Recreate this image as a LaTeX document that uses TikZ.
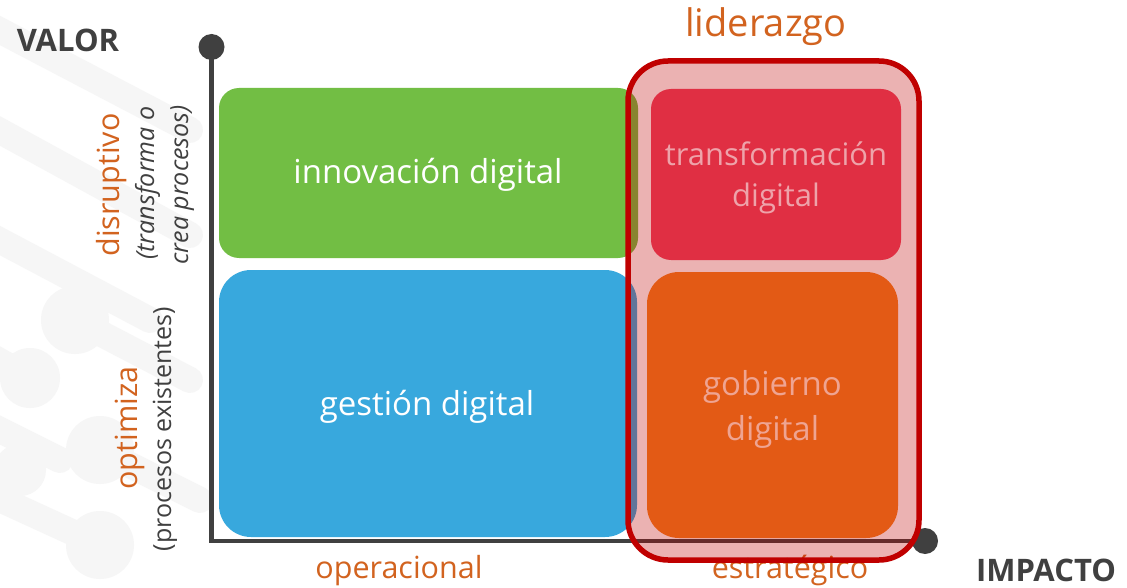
\documentclass[tikz,border=0pt]{standalone}
\usepackage{fontspec}
\setmainfont{Open Sans}
\definecolor{axisgray}{HTML}{404040}
\definecolor{txtorange}{HTML}{D2631F}
\definecolor{boxgreen}{HTML}{72BE44}
\definecolor{boxblue}{HTML}{38A8DD}
\definecolor{boxred}{HTML}{E02F43}
\definecolor{boxorange}{HTML}{E35A15}
\definecolor{leadred}{HTML}{C00000}
\definecolor{pinkred}{HTML}{EEA3AA}
\definecolor{pinkor}{HTML}{EFA492}
\definecolor{wmark}{HTML}{F6F6F6}
\tikzset{
  dot/.style={circle, fill=axisgray, minimum size=26pt, inner sep=0pt},
  axisline/.style={draw=axisgray, line width=4.5pt, line join=miter},
  qbox/.style={rectangle, inner sep=0pt, draw=none},
  boxtext/.style={anchor=base, inner sep=0pt, font=\fontsize{33}{40}\selectfont},
  axtitle/.style={anchor=base, inner sep=0pt, text=axisgray, font=\bfseries\fontsize{31}{36}\selectfont},
  axlabel/.style={anchor=base, inner sep=0pt, text=txtorange, font=\fontsize{30.5}{36}\selectfont},
  sublabel/.style={anchor=base, inner sep=0pt, text=axisgray, font=\fontsize{25}{30}\selectfont},
  wm/.style={draw=wmark, line width=26pt, line cap=round},
}
\begin{document}
\begin{tikzpicture}[x=1pt,y=-1pt]
\useasboundingbox (0,0) rectangle (1127,588);
\fill[white] (0,0) rectangle (1127,588);
% faint watermark
\draw[wm] (-20,20) -- (190,130);
\draw[wm] (-20,120) -- (190,235);
\draw[wm] (-20,230) -- (150,320);
\fill[wmark] (75,320) circle (34pt);
\draw[wm] (75,320) -- (190,380);
\fill[wmark] (30,378) circle (30pt);
\draw[wm] (30,378) -- (-20,350);
\fill[wmark] (100,450) circle (34pt);
\draw[wm] (100,450) -- (200,500);
\draw[wm] (-20,420) -- (60,460);
\fill[wmark] (20,470) circle (26pt);
\fill[wmark] (100,545) circle (34pt);
\draw[wm] (100,545) -- (-20,490);

% axes
\node[dot] (vtop) at (211.5,47) {};
\node[dot] (hend) at (925,541) {};
\coordinate (origin) at (211.5,541);
\draw[axisline] (vtop.center) -- (origin) -- (hend.center);

% quadrant boxes
\node[qbox, fill=boxgreen, rounded corners=20pt, minimum width=419pt, minimum height=170pt] (innov) at (428.5,173) {};
\node[qbox, fill=boxblue, rounded corners=32pt, minimum width=418pt, minimum height=267pt] (gest) at (428,403.5) {};

% axis labels
\node[axtitle] (valor) at (68,52) {VALOR};
\node[axtitle] (impacto) at (1046,581) {IMPACTO};
\node[axlabel] (operacional) at (399,578) {operacional};
\node[axlabel] (estrategico) at (790,578) {estratégico};
\node[anchor=base, inner sep=0pt, text=txtorange, font=\fontsize{38}{44}\selectfont] (liderazgo) at (766,37) {liderazgo};

\node[axlabel, rotate=90] (disruptivo) at (119,185) {disruptivo};
\node[sublabel, rotate=90, font=\itshape\fontsize{25}{30}\selectfont] (transf1) at (154,183) {(transforma o};
\node[sublabel, rotate=90, font=\itshape\fontsize{25}{30}\selectfont] (transf2) at (188,185) {crea procesos)};
\node[axlabel, rotate=90] (optimiza) at (137,428) {optimiza};
\node[sublabel, rotate=90] (procexist) at (171,429) {(procesos existentes)};

% leadership overlay
\node[qbox, draw=leadred, line width=5.5pt, fill=leadred, fill opacity=0.3, draw opacity=1, rounded corners=40pt, minimum width=291pt, minimum height=499pt] (lider) at (773.5,310.5) {};

\node[qbox, fill=boxred, rounded corners=20pt, minimum width=250pt, minimum height=171pt] (transf) at (776,174.5) {};
\node[qbox, fill=boxorange, rounded corners=32pt, minimum width=251pt, minimum height=266pt] (gob) at (772.5,405) {};

% box texts
\node[boxtext, text=white] (innovT) at (428,184) {innovación digital};
\node[boxtext, text=white] (gestT) at (427,415) {gestión digital};
\node[boxtext, text=pinkred, font=\fontsize{31}{41}\selectfont] (transfT1) at (776,166) {transformación};
\node[boxtext, text=pinkred, font=\fontsize{31}{41}\selectfont] (transfT2) at (776,207) {digital};
\node[boxtext, text=pinkor] (gobT1) at (772.5,395) {gobierno};
\node[boxtext, text=pinkor] (gobT2) at (772.5,440) {digital};
\end{tikzpicture}
\end{document}
